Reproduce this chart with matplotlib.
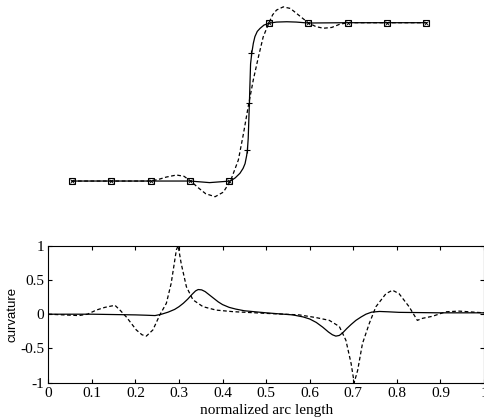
import numpy as np
import matplotlib
matplotlib.use('Agg')
import matplotlib.pyplot as plt

plt.rc('font', family='Liberation Serif')
plt.rc('font', size=11)

# top panel: curve shape (knot units, no axes shown)
knot_x = [0, 1, 2, 3, 4, 5, 6, 7, 8, 9]
knot_y = [0, 0, 0, 0, 0, 1, 1, 1, 1, 1]
cross_x = [4.45, 4.51, 4.55]
cross_y = [0.196, 0.49, 0.807]

smooth_x = [0, 1, 2, 3, 3.5, 4.03, 4.15, 4.27, 4.35, 4.40, 4.44, 4.46, 4.48, 4.49,
            4.50, 4.51, 4.52, 4.53, 4.54, 4.57, 4.61, 4.65, 4.71, 4.78, 4.88, 5.01,
            5.2, 5.46, 5.7, 6, 6.5, 7, 8, 9]
smooth_y = [0, 0, 0, 0, -0.01, 0, 0.02, 0.049, 0.08, 0.11, 0.16, 0.196, 0.27, 0.343,
            0.42, 0.49, 0.58, 0.659, 0.74, 0.807, 0.87, 0.912, 0.945, 0.964, 0.985, 0.997,
            1.004, 1.006, 1.004, 0.998, 0.999, 1, 1, 1]

dash_x = [0, 1, 2, 2.2, 2.4, 2.66, 2.85, 3.02, 3.2, 3.4, 3.64, 3.85, 3.95, 4.03, 4.12,
          4.23, 4.36, 4.48, 4.61, 4.74, 4.86, 4.99, 5.1, 5.2, 5.37, 5.55, 5.75, 6.0,
          6.2, 6.39, 6.6, 6.8, 7.0, 8, 9]
dash_y = [0, 0, 0, 0.01, 0.025, 0.038, 0.03, 0, -0.04, -0.08, -0.099, -0.07, -0.03, 0.0,
          0.06, 0.133, 0.30, 0.47, 0.64, 0.785, 0.91, 0.99, 1.05, 1.08, 1.10, 1.09, 1.05,
          1.0, 0.975, 0.965, 0.97, 0.99, 1.0, 1, 1]

# bottom panel: curvature vs normalized arc length
k_solid_s = [0, 0.1, 0.2, 0.225, 0.245, 0.26, 0.275, 0.29, 0.3, 0.31, 0.32, 0.33, 0.338,
             0.344, 0.352, 0.36, 0.37, 0.38, 0.39, 0.4, 0.415, 0.43, 0.45, 0.475, 0.5,
             0.53, 0.561, 0.585, 0.6, 0.615, 0.63, 0.643, 0.652, 0.66, 0.668, 0.676,
             0.685, 0.695, 0.706, 0.718, 0.729, 0.742, 0.76, 0.78, 0.805, 0.9, 1.0]
k_solid = [0, 0, -0.01, -0.015, -0.02, 0.0, 0.03, 0.07, 0.11, 0.16, 0.22, 0.29, 0.34,
           0.36, 0.355, 0.33, 0.28, 0.23, 0.18, 0.14, 0.10, 0.075, 0.05, 0.035, 0.02,
           0.005, -0.01, -0.04, -0.07, -0.12, -0.19, -0.26, -0.30, -0.32, -0.31, -0.27,
           -0.21, -0.15, -0.09, -0.04, 0.0, 0.03, 0.04, 0.035, 0.027, 0.02, 0.02]

k_dash_s = [0, 0.07, 0.09, 0.11, 0.13, 0.153, 0.166, 0.179, 0.19, 0.202, 0.215, 0.225,
            0.24, 0.256, 0.271, 0.282, 0.294, 0.298, 0.305, 0.317, 0.332, 0.355, 0.385,
            0.424, 0.5, 0.576, 0.615, 0.645, 0.668, 0.683, 0.695, 0.702, 0.71, 0.721,
            0.737, 0.752, 0.775, 0.79, 0.805, 0.828, 0.847, 0.859, 0.882, 0.912, 0.943, 1.0]
k_dash = [0, -0.02, 0.0, 0.06, 0.1, 0.13, 0.05, -0.04, -0.13, -0.23, -0.3, -0.32,
          -0.23, -0.01, 0.16, 0.45, 0.94, 1.0, 0.74, 0.40, 0.21, 0.11, 0.06,
          0.037, 0.012, -0.01, -0.05, -0.09, -0.18, -0.38, -0.72, -1.0, -0.82, -0.43,
          -0.13, 0.11, 0.30, 0.35, 0.30, 0.11, -0.09, -0.06, -0.03, 0.035, 0.045, 0.02]

W, H = 485, 417
fig = plt.figure(figsize=(W / 100, H / 100), dpi=100)

# top axes, placed in pixels
ax1 = fig.add_axes([52 / W, (H - 212.7) / H, 394 / W, 209 / H])
ax1.plot(smooth_x, smooth_y, color='black', lw=0.9)
ax1.plot(dash_x, dash_y, color='black', lw=0.9, linestyle=(0, (3, 2)))
ax1.plot(knot_x, knot_y, linestyle='none', marker='s', ms=4, mfc='none', mec='black', mew=0.8)
ax1.plot(knot_x, knot_y, linestyle='none', marker='x', ms=2.5, color='black', mew=0.6)
ax1.plot(cross_x, cross_y, linestyle='none', marker='+', ms=5, color='black', mew=0.8)
ax1.set_xlim(-0.5, 9.5)
ax1.set_ylim(-0.2, 1.12)
ax1.axis('off')

# bottom axes
ax2 = fig.add_axes([48.3 / W, (H - 382.7) / H, (484 - 48.3) / W, 137 / H])
ax2.plot(k_solid_s, k_solid, color='black', lw=0.9)
ax2.plot(k_dash_s, k_dash, color='black', lw=0.9, linestyle=(0, (3, 2)))
ax2.set_xlim(0, 1)
ax2.set_ylim(-1, 1)
ax2.set_xticks(np.arange(0, 1.01, 0.1))
ax2.set_xticklabels(['0', '0.1', '0.2', '0.3', '0.4', '0.5', '0.6', '0.7', '0.8', '0.9', '1'])
ax2.set_yticks([-1, -0.5, 0, 0.5, 1])
ax2.set_yticklabels(['-1', '-0.5', '0', '0.5', '1'])
ax2.tick_params(direction='in', top=True, right=True, length=3, width=0.8, pad=3)
for sp in ax2.spines.values():
    sp.set_linewidth(0.8)
ax2.set_xlabel('normalized arc length', labelpad=3)
ax2.set_ylabel('curvature', labelpad=1, family='Liberation Sans', fontsize=9.5)

fig.savefig('out.png', dpi=100)
